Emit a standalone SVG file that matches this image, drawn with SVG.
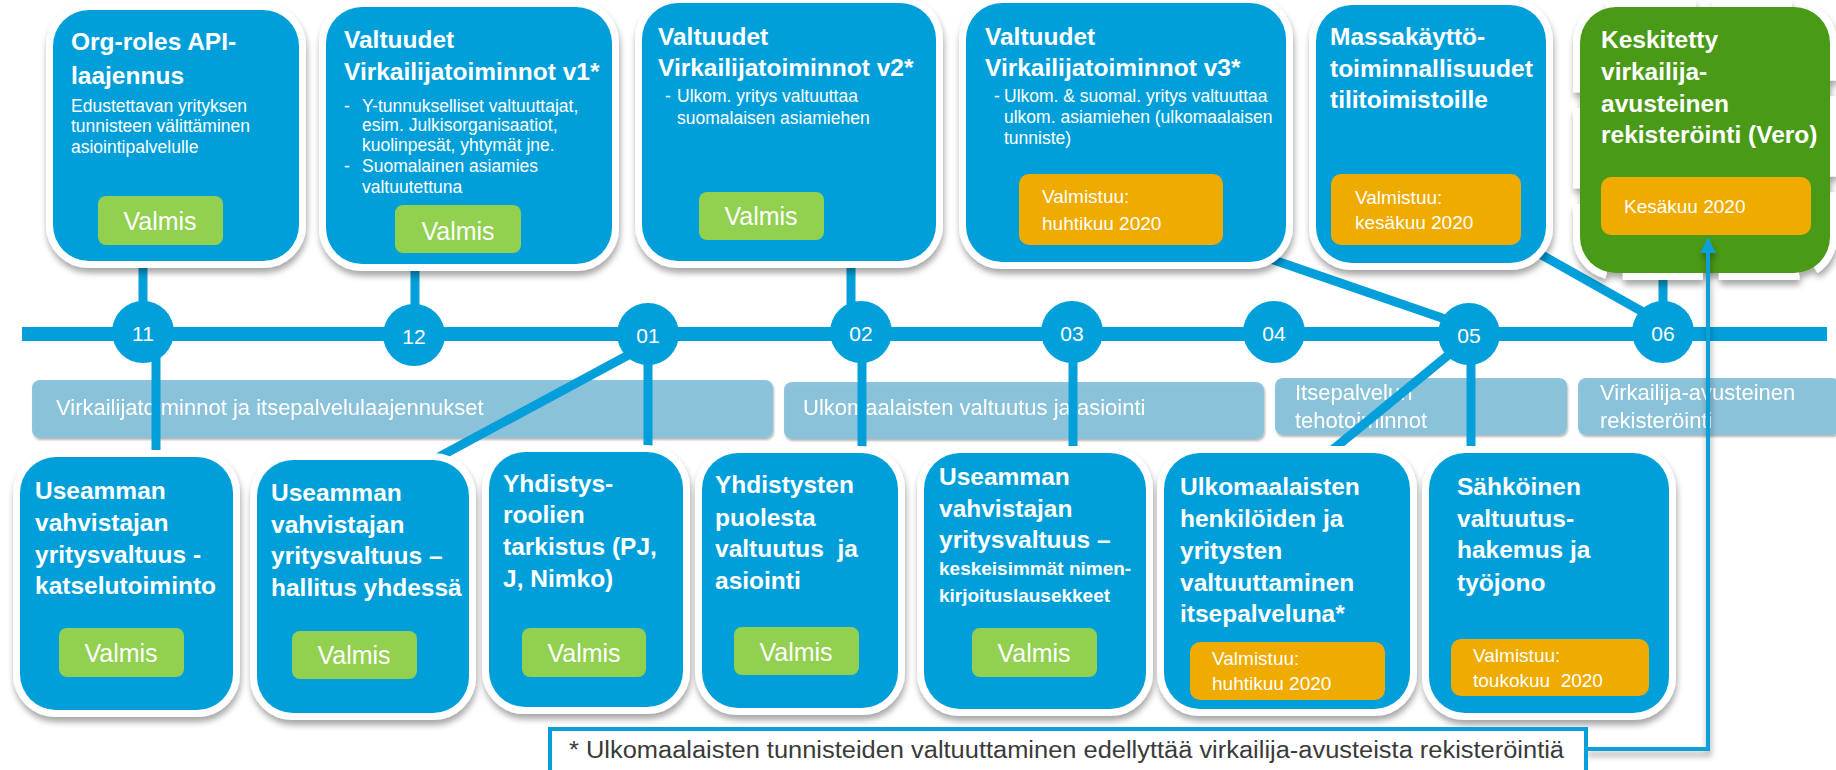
<svg xmlns="http://www.w3.org/2000/svg" width="1836" height="770" viewBox="0 0 1836 770">
<defs>
<filter id="sh" x="-10%" y="-10%" width="125%" height="125%">
<feDropShadow dx="1" dy="5" stdDeviation="3" flood-color="#000" flood-opacity="0.35"/>
</filter>
<filter id="tsh" x="-5%" y="-20%" width="110%" height="150%">
<feDropShadow dx="1" dy="2" stdDeviation="1.2" flood-color="#000" flood-opacity="0.3"/>
</filter>
<marker id="arr" viewBox="0 0 10 10" refX="9" refY="5" markerWidth="4" markerHeight="4" orient="auto" markerUnits="strokeWidth">
<path d="M0,0 L10,5 L0,10 z" fill="#0a9fd8"/>
</marker>
</defs>
<style>
text{font-family:"Liberation Sans",Arial,sans-serif;fill:#fff}
.box{fill:#019fda;stroke:#fff;stroke-width:14;paint-order:stroke}
.gbox{fill:#4a9a17;stroke:#fff;stroke-width:14;paint-order:stroke;stroke-dasharray:80 16}
.ok{fill:#92d050}
.or{fill:#efab00}
.t{font-size:24.5px;font-weight:bold}
.b{font-size:17.5px}
.v{font-size:25px;text-anchor:middle}
.o{font-size:19px}
.s{font-size:19px;font-weight:bold}
.cat{fill:#86c2da;opacity:0.95}
.ct{font-size:22px}
.num{font-size:21px;text-anchor:middle}
.ln{stroke:#029fda;stroke-width:9;fill:none}
.circ{fill:#01a0db}
</style>
<rect width="1836" height="770" fill="#fff"/>

<g id="categories" filter="url(#tsh)">
<rect class="cat" x="32" y="380" width="741" height="58" rx="8"/>
<text class="ct" x="56" y="415">Virkailijatoiminnot ja itsepalvelulaajennukset</text>
<rect class="cat" x="784" y="382" width="480" height="57" rx="8"/>
<text class="ct" x="803" y="415">Ulkomaalaisten valtuutus ja asiointi</text>
<rect class="cat" x="1275" y="378" width="292" height="57" rx="8"/>
<text class="ct" x="1295" y="400">Itsepalvelun</text>
<text class="ct" x="1295" y="428">tehotoiminnot</text>
<rect class="cat" x="1578" y="378" width="262" height="57" rx="8"/>
<text class="ct" x="1600" y="400">Virkailija-avusteinen</text>
<text class="ct" x="1600" y="428">rekisteröinti</text>
</g>

<g id="timeline">
<rect x="22" y="327" width="1805" height="14" fill="#029fda"/>
</g>

<g id="connectors">
<line class="ln" x1="143" y1="258" x2="143" y2="310"/>
<line class="ln" x1="156" y1="355" x2="156" y2="457"/>
<line class="ln" x1="415" y1="262" x2="415" y2="310"/>
<line class="ln" x1="648" y1="355" x2="648" y2="452"/>
<line class="ln" x1="634" y1="352" x2="437" y2="458"/>
<line class="ln" x1="851" y1="258" x2="851" y2="310"/>
<line class="ln" x1="862" y1="355" x2="862" y2="453"/>
<line class="ln" x1="1073" y1="355" x2="1073" y2="453"/>
<line class="ln" x1="1262" y1="256" x2="1448" y2="320"/>
<line class="ln" x1="1540" y1="254" x2="1643" y2="312"/>
<line class="ln" x1="1663" y1="270" x2="1663" y2="310"/>
<line class="ln" x1="1471" y1="355" x2="1471" y2="453"/>
<line class="ln" x1="1452" y1="352" x2="1325" y2="456"/>
</g>

<g id="milestones">
<circle class="circ" cx="143" cy="332" r="31"/><text class="num" x="143" y="341">11</text>
<circle class="circ" cx="414" cy="335" r="31"/><text class="num" x="414" y="344">12</text>
<circle class="circ" cx="648" cy="334" r="31"/><text class="num" x="648" y="343">01</text>
<circle class="circ" cx="861" cy="332" r="31"/><text class="num" x="861" y="341">02</text>
<circle class="circ" cx="1072" cy="332" r="31"/><text class="num" x="1072" y="341">03</text>
<circle class="circ" cx="1274" cy="332" r="31"/><text class="num" x="1274" y="341">04</text>
<circle class="circ" cx="1469" cy="334" r="31"/><text class="num" x="1469" y="343">05</text>
<circle class="circ" cx="1663" cy="332" r="31"/><text class="num" x="1663" y="341">06</text>
</g>

<g id="t1">
<rect class="box" x="53" y="10" width="246" height="251" rx="36" filter="url(#sh)"/>
<text class="t" x="71" y="50">Org-roles API-</text>
<text class="t" x="71" y="84">laajennus</text>
<text class="b" x="71" y="112">Edustettavan yrityksen</text>
<text class="b" x="71" y="132">tunnisteen välittäminen</text>
<text class="b" x="71" y="153">asiointipalvelulle</text>
<rect class="ok" x="98" y="196" width="125" height="49" rx="8"/>
<text class="v" x="160" y="230">Valmis</text>
</g>

<g id="t2">
<rect class="box" x="326" y="7" width="286" height="257" rx="36" filter="url(#sh)"/>
<text class="t" x="344" y="48">Valtuudet</text>
<text class="t" x="344" y="80">Virkailijatoiminnot v1*</text>
<text class="b" x="344" y="112">-</text>
<text class="b" x="362" y="112">Y-tunnukselliset valtuuttajat,</text>
<text class="b" x="362" y="131">esim. Julkisorganisaatiot,</text>
<text class="b" x="362" y="151">kuolinpesät, yhtymät jne.</text>
<text class="b" x="344" y="172">-</text>
<text class="b" x="362" y="172">Suomalainen asiamies</text>
<text class="b" x="362" y="193">valtuutettuna</text>
<rect class="ok" x="395" y="205" width="126" height="48" rx="8"/>
<text class="v" x="458" y="240">Valmis</text>
</g>

<g id="t3">
<rect class="box" x="642" y="3" width="294" height="258" rx="36" filter="url(#sh)"/>
<text class="t" x="658" y="45">Valtuudet</text>
<text class="t" x="658" y="76">Virkailijatoiminnot v2*</text>
<text class="b" x="665" y="102">-</text>
<text class="b" x="677" y="102">Ulkom. yritys valtuuttaa</text>
<text class="b" x="677" y="124">suomalaisen asiamiehen</text>
<rect class="ok" x="699" y="192" width="125" height="48" rx="8"/>
<text class="v" x="761" y="225">Valmis</text>
</g>

<g id="t4">
<rect class="box" x="966" y="3" width="320" height="259" rx="36" filter="url(#sh)"/>
<text class="t" x="985" y="45">Valtuudet</text>
<text class="t" x="985" y="76">Virkailijatoiminnot v3*</text>
<text class="b" x="994" y="102">-</text>
<text class="b" x="1004" y="102">Ulkom. &amp; suomal. yritys valtuuttaa</text>
<text class="b" x="1004" y="123">ulkom. asiamiehen (ulkomaalaisen</text>
<text class="b" x="1004" y="144">tunniste)</text>
<rect class="or" x="1019" y="174" width="204" height="71" rx="10"/>
<text class="o" x="1042" y="203">Valmistuu:</text>
<text class="o" x="1042" y="230">huhtikuu 2020</text>
</g>

<g id="t5">
<rect class="box" x="1316" y="5" width="230" height="258" rx="36" filter="url(#sh)"/>
<text class="t" x="1330" y="45">Massakäyttö-</text>
<text class="t" x="1330" y="77">toiminnallisuudet</text>
<text class="t" x="1330" y="108">tilitoimistoille</text>
<rect class="or" x="1331" y="174" width="190" height="71" rx="10"/>
<text class="o" x="1355" y="204">Valmistuu:</text>
<text class="o" x="1355" y="229">kesäkuu  2020</text>
</g>

<g id="t6">
<rect class="gbox" x="1580" y="7" width="250" height="266" rx="36" filter="url(#sh)"/>
<text class="t" x="1601" y="48">Keskitetty</text>
<text class="t" x="1601" y="80">virkailija-</text>
<text class="t" x="1601" y="112">avusteinen</text>
<text class="t" x="1601" y="143">rekisteröinti (Vero)</text>
<rect class="or" x="1601" y="177" width="210" height="58" rx="10"/>
<text class="o" x="1624" y="213">Kesäkuu 2020</text>
</g>

<g id="b1">
<rect class="box" x="20" y="457" width="213" height="253" rx="36" filter="url(#sh)"/>
<text class="t" x="35" y="499">Useamman</text>
<text class="t" x="35" y="531">vahvistajan</text>
<text class="t" x="35" y="563">yritysvaltuus -</text>
<text class="t" x="35" y="594">katselutoiminto</text>
<rect class="ok" x="59" y="628" width="125" height="49" rx="8"/>
<text class="v" x="121" y="662">Valmis</text>
</g>

<g id="b2">
<rect class="box" x="257" y="460" width="212" height="253" rx="36" filter="url(#sh)"/>
<text class="t" x="271" y="501">Useamman</text>
<text class="t" x="271" y="533">vahvistajan</text>
<text class="t" x="271" y="564">yritysvaltuus –</text>
<text class="t" x="271" y="596">hallitus yhdessä</text>
<rect class="ok" x="292" y="631" width="125" height="48" rx="8"/>
<text class="v" x="354" y="664">Valmis</text>
</g>

<g id="b3">
<rect class="box" x="489" y="452" width="194" height="255" rx="36" filter="url(#sh)"/>
<text class="t" x="503" y="492">Yhdistys-</text>
<text class="t" x="503" y="523">roolien</text>
<text class="t" x="503" y="555">tarkistus (PJ,</text>
<text class="t" x="503" y="587">J, Nimko)</text>
<rect class="ok" x="522" y="628" width="124" height="49" rx="8"/>
<text class="v" x="584" y="662">Valmis</text>
</g>

<g id="b4">
<rect class="box" x="702" y="453" width="196" height="255" rx="36" filter="url(#sh)"/>
<text class="t" x="715" y="493">Yhdistysten</text>
<text class="t" x="715" y="526">puolesta</text>
<text class="t" x="715" y="557" xml:space="preserve">valtuutus  ja</text>
<text class="t" x="715" y="589">asiointi</text>
<rect class="ok" x="734" y="627" width="125" height="48" rx="8"/>
<text class="v" x="796" y="661">Valmis</text>
</g>

<g id="b5">
<rect class="box" x="924" y="453" width="222" height="256" rx="36" filter="url(#sh)"/>
<text class="t" x="939" y="485">Useamman</text>
<text class="t" x="939" y="517">vahvistajan</text>
<text class="t" x="939" y="548">yritysvaltuus –</text>
<text class="s" x="939" y="575">keskeisimmät nimen-</text>
<text class="s" x="939" y="602">kirjoituslausekkeet</text>
<rect class="ok" x="972" y="628" width="125" height="49" rx="8"/>
<text class="v" x="1034" y="662">Valmis</text>
</g>

<g id="b6">
<rect class="box" x="1164" y="453" width="246" height="256" rx="36" filter="url(#sh)"/>
<text class="t" x="1180" y="495">Ulkomaalaisten</text>
<text class="t" x="1180" y="527">henkilöiden ja</text>
<text class="t" x="1180" y="559">yritysten</text>
<text class="t" x="1180" y="591">valtuuttaminen</text>
<text class="t" x="1180" y="622">itsepalveluna*</text>
<rect class="or" x="1190" y="642" width="195" height="58" rx="10"/>
<text class="o" x="1212" y="665">Valmistuu:</text>
<text class="o" x="1212" y="690">huhtikuu 2020</text>
</g>

<g id="b7">
<rect class="box" x="1429" y="453" width="240" height="260" rx="36" filter="url(#sh)"/>
<text class="t" x="1457" y="495">Sähköinen</text>
<text class="t" x="1457" y="527">valtuutus-</text>
<text class="t" x="1457" y="558">hakemus ja</text>
<text class="t" x="1457" y="591">työjono</text>
<rect class="or" x="1451" y="639" width="198" height="57" rx="10"/>
<text class="o" x="1473" y="662">Valmistuu:</text>
<text class="o" x="1473" y="687" xml:space="preserve">toukokuu  2020</text>
</g>

<g id="footnote-link">
<polyline points="1586,749 1708,749 1708,239" fill="none" stroke="#0a9fd8" stroke-width="4" marker-end="url(#arr)" filter="url(#sh)"/>
</g>

<g id="footnote">
<rect x="550" y="729" width="1036" height="50" fill="#fff" stroke="#0a9fd8" stroke-width="4"/>
<text x="569" y="758" font-size="23" textLength="995" lengthAdjust="spacingAndGlyphs" style="fill:#3a3a3a">* Ulkomaalaisten tunnisteiden valtuuttaminen edellyttää virkailija-avusteista rekisteröintiä</text>
</g>
</svg>
